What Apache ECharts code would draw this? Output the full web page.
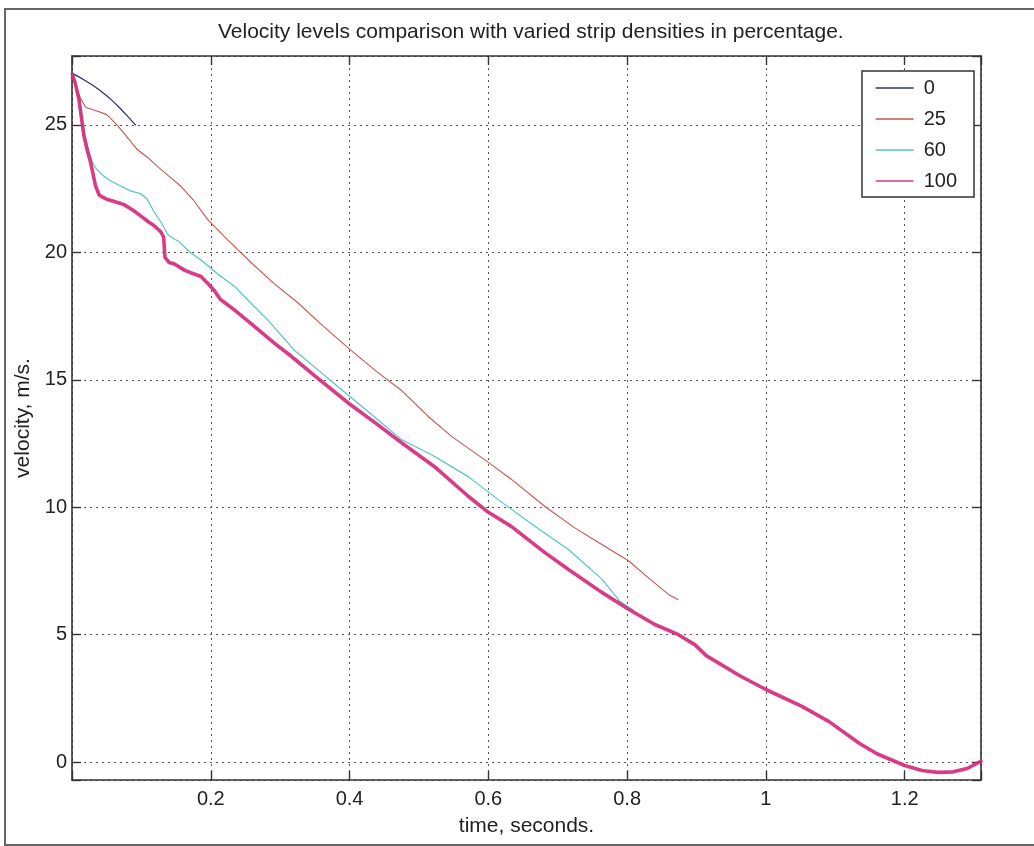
<!DOCTYPE html>
<html>
<head>
<meta charset="utf-8">
<script src="https://cdn.jsdelivr.net/npm/echarts@6/dist/echarts.min.js"></script>
<style>
  html, body { margin: 0; padding: 0; background: #fff; }
  #chart { width: 1034px; height: 846px; }
</style>
</head>
<body>
<div id="chart"></div>
<script>
'use strict';

const seriesNames = ['0', '25', '60', '100'];

const time0 = [0, 0.01, 0.02, 0.03, 0.04, 0.05, 0.06, 0.07, 0.08, 0.092];
const vel0 = [27.03, 26.88, 26.72, 26.55, 26.36, 26.14, 25.9, 25.63, 25.34, 24.98];

const time25 = [0, 0.006, 0.012, 0.02, 0.035, 0.05, 0.065, 0.08, 0.094, 0.11, 0.123, 0.14, 0.157, 0.175,
    0.195, 0.224, 0.258, 0.29, 0.325, 0.36, 0.4, 0.44, 0.474, 0.513, 0.547, 0.6, 0.633, 0.681, 0.724,
    0.76, 0.802, 0.83, 0.86, 0.874];
const vel25 = [27.03, 26.5, 26.05, 25.68, 25.55, 25.4, 25.0, 24.5, 24.03, 23.7, 23.37, 22.98, 22.59, 22.05,
    21.3, 20.5, 19.6, 18.8, 18.03, 17.15, 16.2, 15.3, 14.6, 13.57, 12.78, 11.76, 11.1, 10.04, 9.2,
    8.6, 7.9, 7.25, 6.57, 6.37];

const time60 = [0, 0.005, 0.01, 0.017, 0.024, 0.03, 0.034, 0.045, 0.056, 0.07, 0.085, 0.099, 0.108, 0.118,
    0.13, 0.138, 0.145, 0.155, 0.17, 0.186, 0.21, 0.234, 0.258, 0.282, 0.32, 0.36, 0.4, 0.44, 0.474,
    0.522, 0.571, 0.619, 0.667, 0.715, 0.763, 0.79, 0.81];
const vel60 = [27.03, 26.6, 26.0, 24.8, 24.0, 23.5, 23.3, 23.0, 22.8, 22.6, 22.4, 22.3, 22.1, 21.6,
    21.1, 20.7, 20.56, 20.4, 20.0, 19.7, 19.15, 18.67, 18.0, 17.35, 16.17, 15.26, 14.35, 13.45, 12.67,
    12.0, 11.2, 10.2, 9.25, 8.35, 7.2, 6.3, 5.95];

const time100 = [0, 0.005, 0.01, 0.017, 0.022, 0.027, 0.034, 0.039, 0.045, 0.051, 0.06, 0.075, 0.088, 0.099,
    0.11, 0.118, 0.128, 0.132, 0.134, 0.14, 0.147, 0.162, 0.171, 0.186, 0.195, 0.205, 0.214, 0.234,
    0.258, 0.292, 0.311, 0.35, 0.4, 0.44, 0.474, 0.522, 0.571, 0.6, 0.633, 0.681, 0.715, 0.763, 0.802,
    0.84, 0.874, 0.898, 0.914, 0.963, 1.0, 1.052, 1.091, 1.135, 1.16, 1.2, 1.225, 1.248, 1.27, 1.29, 1.312];
const vel100 = [27.03, 26.6, 26.0, 24.6, 24.0, 23.5, 22.6, 22.25, 22.15, 22.07, 22.0, 21.87, 21.65, 21.43,
    21.2, 21.05, 20.8, 20.6, 19.8, 19.6, 19.55, 19.3, 19.2, 19.05, 18.8, 18.5, 18.15, 17.74,
    17.2, 16.43, 16.03, 15.15, 14.05, 13.25, 12.55, 11.6, 10.43, 9.8, 9.25, 8.23, 7.57, 6.67, 6.0,
    5.4, 5.0, 4.6, 4.18, 3.38, 2.85, 2.19, 1.59, 0.73, 0.33, -0.13, -0.33, -0.4, -0.38, -0.25, 0.07];

const xTicks = [0.2, 0.4, 0.6, 0.8, 1, 1.2];
const yTicks = [0, 5, 10, 15, 20, 25];

const font = '"Liberation Sans", Arial, sans-serif';
const colors = ['#33336e', '#c8544e', '#52c4c8', '#d62a7c'];
const widths = [1.3, 1.1, 1.2, 3.6];

function zip(ts, vs) {
    return ts.map(function(t, i) { return [t, vs[i]]; });
}

const dataSets = [zip(time0, vel0), zip(time25, vel25), zip(time60, vel60), zip(time100, vel100)];

function tickLabel(list) {
    return function(v) {
        const hit = list.find(function(t) { return Math.abs(t - v) < 1e-6; });
        return hit === undefined ? '' : String(hit);
    };
}

const gridLine = { show: true, lineStyle: { color: '#555', type: [2, 4], width: 1 } };
const boxLine = { show: true, onZero: false, lineStyle: { color: '#333', width: 1.6 } };
const tickIn = { show: true, inside: true, length: 9, lineStyle: { color: '#333', width: 1.4 } };

const chart = echarts.init(document.getElementById('chart'), null, { renderer: 'canvas' });

chart.setOption({
    animation: false,
    backgroundColor: '#fff',
    title: {
        text: 'Velocity levels comparison with varied strip densities in percentage.',
        left: 213,
        top: 17,
        textStyle: { fontFamily: font, fontSize: 21, fontWeight: 'normal', color: '#222' },
    },
    graphic: [{
        type: 'rect',
        shape: { x: 5, y: 9, width: 1100, height: 836 },
        style: { fill: 'none', stroke: '#666', lineWidth: 2 },
        silent: true,
        z: -1,
    }],
    legend: {
        orient: 'vertical',
        left: 862,
        top: 71,
        padding: [7, 17, 6, 13],
        itemWidth: 38,
        itemHeight: 14,
        itemGap: 11,
        backgroundColor: '#fff',
        borderColor: '#333',
        borderWidth: 1.5,
        data: seriesNames,
        itemStyle: { opacity: 0 },
        lineStyle: { width: 1.3 },
        textStyle: { fontFamily: font, fontSize: 20, color: '#222', padding: [0, 0, 0, 5] },
    },
    grid: { left: 72, right: 53, top: 56, bottom: 66 },
    xAxis: [{
        type: 'value',
        min: 0,
        max: 1.31,
        interval: 0.2,
        name: 'time, seconds.',
        nameLocation: 'middle',
        nameGap: 36,
        nameTextStyle: { fontFamily: font, fontSize: 21, color: '#222' },
        axisLine: boxLine,
        axisTick: tickIn,
        axisLabel: { margin: 9, fontFamily: font, fontSize: 20, color: '#222', formatter: tickLabel(xTicks) },
        splitLine: gridLine,
    }, {
        type: 'value',
        position: 'top',
        min: 0,
        max: 1.31,
        interval: 0.2,
        axisLine: boxLine,
        axisTick: tickIn,
        axisLabel: { show: false },
        splitLine: { show: false },
    }],
    yAxis: [{
        type: 'value',
        min: -0.7,
        max: 27.7,
        splitNumber: 5,
        name: 'velocity, m/s.',
        nameLocation: 'middle',
        nameGap: 38,
        nameTextStyle: { fontFamily: font, fontSize: 21, color: '#222' },
        axisLine: boxLine,
        axisTick: tickIn,
        axisLabel: { margin: 5, fontFamily: font, fontSize: 20, color: '#222', formatter: tickLabel(yTicks) },
        splitLine: gridLine,
    }, {
        type: 'value',
        position: 'right',
        min: -0.7,
        max: 27.7,
        splitNumber: 5,
        axisLine: boxLine,
        axisTick: tickIn,
        axisLabel: { show: false },
        splitLine: { show: false },
    }],
    series: seriesNames.map(function(name, i) {
        return {
            name: name,
            type: 'line',
            data: dataSets[i],
            symbol: 'none',
            smooth: false,
            z: 2 + i,
            lineStyle: { color: colors[i], width: widths[i], opacity: i === 3 ? 0.92 : 1 },
            itemStyle: { color: colors[i] },
        };
    }),
});
</script>
</body>
</html>
